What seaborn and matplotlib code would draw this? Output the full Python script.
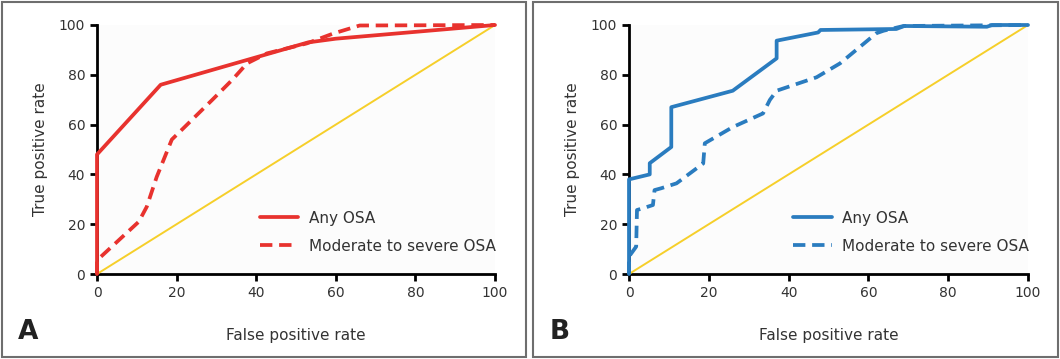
import matplotlib
matplotlib.use("Agg")
import matplotlib.pyplot as plt
import seaborn as sns
from matplotlib.patches import Rectangle

# --- Panel A data (red) ---
a_any_fpr = [0, 0, 16, 53, 60, 100]
a_any_tpr = [0, 48, 76, 93, 94.5, 100]
a_mod_fpr = [0, 0, 10.5, 12.5, 15, 18.8, 22, 29, 34, 37.7, 42.7, 52.7, 59.4, 66, 100]
a_mod_tpr = [0, 5.5, 21, 27, 39, 54, 59, 70, 78, 84.6, 88.6, 92.6, 96.6, 99.8, 100]

# --- Panel B data (blue) ---
b_any_fpr = [0, 0, 5.2, 5.2, 10.6, 10.6, 26, 37, 37, 47.4, 48, 67, 69, 89.7, 91, 100]
b_any_tpr = [0, 38, 40, 44.5, 51, 67, 73.6, 86.6, 93.7, 97, 98, 98.4, 99.6, 99.3, 100, 100]
b_mod_fpr = [0, 0, 1.8, 2, 3.5, 6, 6.4, 8, 11.9, 18.6, 19, 26, 33.6, 35.3, 37, 47, 52.9, 62, 63.8, 68.8, 100]
b_mod_tpr = [0, 7, 11, 25.7, 26.4, 27.7, 33.7, 34.4, 36.4, 44.4, 52.5, 59, 64.5, 69.9, 73.6, 79, 84.6, 96.7, 97.7, 99.6, 100]

ref_x = [0, 100]
ref_y = [0, 100]

ticks = [0, 20, 40, 60, 80, 100]

sns.set_style("ticks")
plt.rcParams['font.family'] = ['DejaVu Sans']

fig = plt.figure(figsize=(10.6, 3.59), dpi=100)
ax_a = fig.add_axes([97 / 1060, 1 - 274 / 359, 398 / 1060, 249 / 359])
ax_b = fig.add_axes([629 / 1060, 1 - 274 / 359, 399 / 1060, 249 / 359])

# panel frames
for x0, x1 in [(2, 526), (533, 1058)]:
    fig.add_artist(Rectangle((x0 / 1060, 2 / 359), (x1 - x0) / 1060, 355 / 359,
                             transform=fig.transFigure, fill=False,
                             edgecolor="#6e6e6e", linewidth=1.5))


def draw(ax, any_x, any_y, mod_x, mod_y, color, letter):
    ax.set_facecolor("#fcfcfc")
    sns.lineplot(x=ref_x, y=ref_y, color="#f6cf2a", linewidth=1.4, ax=ax,
                 sort=False, estimator=None)
    sns.lineplot(x=mod_x, y=mod_y, color=color, linewidth=2.7, linestyle=(0, (3.3, 1.8)),
                 ax=ax, sort=False, estimator=None, label="Moderate to severe OSA")
    sns.lineplot(x=any_x, y=any_y, color=color, linewidth=2.7, ax=ax, sort=False,
                 estimator=None, label="Any OSA")
    ax.set_xlim(0, 100)
    ax.set_ylim(0, 100)
    ax.set_xticks(ticks)
    ax.set_yticks(ticks)
    ax.tick_params(labelsize=10, width=2, length=5, colors="black", labelcolor="#333333")
    for s in ["top", "right"]:
        ax.spines[s].set_visible(False)
    for s in ["left", "bottom"]:
        ax.spines[s].set_linewidth(2)
        ax.spines[s].set_color("black")
    ax.set_xlabel("False positive rate", fontsize=11, color="#333333", labelpad=20)
    ax.set_ylabel("True positive rate", fontsize=11, color="#333333", labelpad=8)
    h, l = ax.get_legend_handles_labels()
    ax.legend(h[::-1], l[::-1], loc="lower right", bbox_to_anchor=(1.018, 0.057),
              borderaxespad=0, frameon=False, fontsize=11, handlelength=2.55,
              handletextpad=0.7, labelspacing=0.85, labelcolor="#333333")
    ax.text(-0.2, -0.233, letter, transform=ax.transAxes, fontsize=19,
            fontweight="bold", color="#222222", va="center", ha="left")


draw(ax_a, a_any_fpr, a_any_tpr, a_mod_fpr, a_mod_tpr, "#e8322e", "A")
draw(ax_b, b_any_fpr, b_any_tpr, b_mod_fpr, b_mod_tpr, "#2a7cbf", "B")

for line in ax_a.lines + ax_b.lines:
    line.set_clip_on(False)
    line.set_zorder(3)

fig.savefig("out.png", dpi=100)
